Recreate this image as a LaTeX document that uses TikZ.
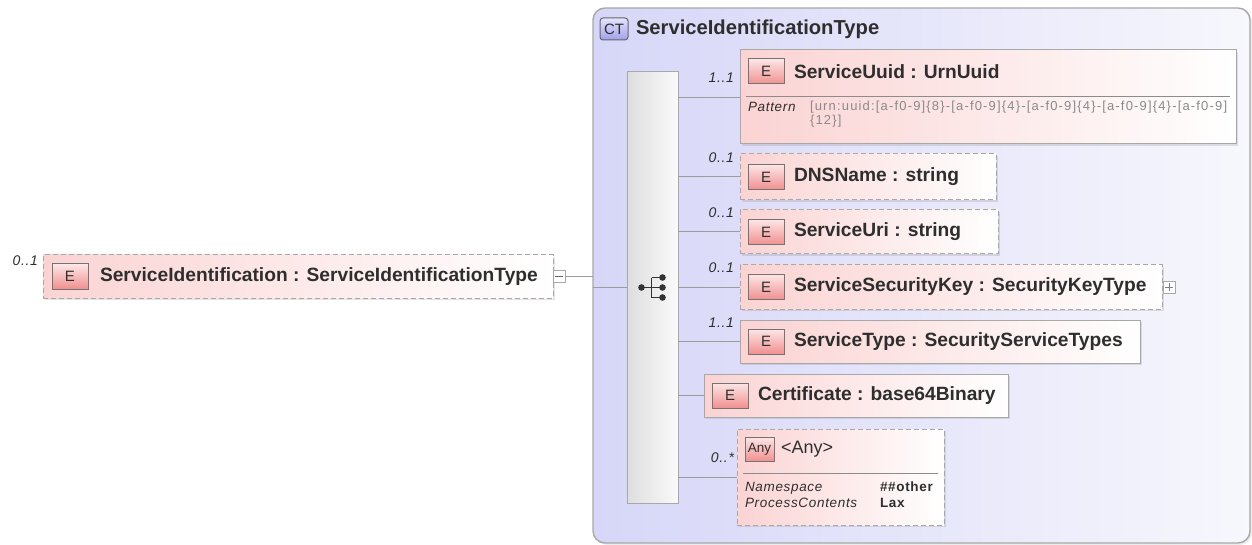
\documentclass[tikz,border=0pt]{standalone}
\usepackage{fontspec}
\setmainfont{Liberation Sans}
\newfontfamily\smallfont[LetterSpace=5]{Liberation Sans}
\newfontfamily\patternfont[LetterSpace=9]{Liberation Sans}
\usetikzlibrary{positioning,shadows,calc}

\definecolor{elempink}{HTML}{FBD3D3}
\definecolor{ctleft}{HTML}{D6D6F8}
\definecolor{ctright}{HTML}{F7F7FD}
\definecolor{boxgray}{HTML}{A8A8A8}
\definecolor{linegray}{HTML}{9C9C9C}
\definecolor{textdark}{HTML}{2E2E2E}
\definecolor{patterngray}{HTML}{8A8A8A}
\definecolor{badgetop}{HTML}{FDE6E6}
\definecolor{badgebot}{HTML}{F09090}
\definecolor{cttop}{HTML}{E4E4FF}
\definecolor{ctbot}{HTML}{A0A0EA}

\tikzset{
  elem/.style={draw=boxgray, line width=1pt, left color=elempink, right color=white,
    anchor=north west, drop shadow={opacity=.22, shadow xshift=2pt, shadow yshift=-2pt}},
  opt/.style={dash pattern=on 5pt off 3pt},
  ebadge/.style={draw=black!55, line width=1pt, top color=badgetop, bottom color=badgebot,
    minimum width=36pt, minimum height=25pt, text=textdark, font=\fontsize{15}{15}\selectfont},
  caption/.style={anchor=west, text=textdark, font=\fontsize{19.2}{22}\selectfont\bfseries},
  mult/.style={text=textdark, font=\smallfont\itshape\fontsize{14}{16}\selectfont},
  facet/.style={anchor=north west, text=textdark, font=\smallfont\itshape\fontsize{13.5}{16}\selectfont},
  facetval/.style={anchor=north west, text=textdark, font=\smallfont\bfseries\fontsize{13.5}{16}\selectfont},
  conn/.style={draw=linegray, line width=1pt},
  sepline/.style={draw=black!45, line width=.8pt},
  toggle/.style={draw=boxgray, fill=white, line width=.8pt, minimum size=12pt}
}

\begin{document}
\begin{tikzpicture}[x=1pt, y=-1pt, every node/.style={inner sep=0pt, outer sep=0pt}]
\useasboundingbox (0,0) rectangle (1252,545);

% complex type frame
\node[draw=boxgray, line width=1.4pt, rounded corners=12pt, left color=ctleft, right color=ctright,
  anchor=north west, minimum width=657pt, minimum height=535pt,
  drop shadow={opacity=.15, shadow xshift=2pt, shadow yshift=-2pt}] (ct) at (593,8) {};
\node[draw=black!60, line width=1pt, rounded corners=3pt, top color=cttop, bottom color=ctbot,
  anchor=north west, minimum width=28pt, minimum height=22pt, text=textdark,
  font=\fontsize{15}{15}\selectfont] (ctbadge) at (600,18) {CT};
\node[caption, right=8pt of ctbadge, font=\fontsize{20.2}{22}\selectfont\bfseries] (cttitle) {ServiceIdentificationType};

% the element itself
\node[elem, opt, minimum width=510pt, minimum height=43pt] (sid) at (43,255) {};
\node[ebadge, anchor=west] (sidE) at ([xshift=9pt]sid.west) {E};
\node[caption, right=12pt of sidE] {ServiceIdentification : ServiceIdentificationType};
\node[mult, above left=11pt and 5pt of sid.west] {0..1};
\node[toggle, right=0pt of sid] (sidminus) {};
\draw[black!60] ([xshift=-4pt]sidminus.center) -- ([xshift=4pt]sidminus.center);
\draw[conn] (sidminus.east) -- (sidminus.east -| ct.west);

% sequence compositor
\node[draw=boxgray, line width=1pt, left color=black!13, right color=black!2,
  anchor=north west, minimum width=51pt, minimum height=431pt] (seq) at (627,72) {};
\draw[conn] (seq.west -| ct.west) -- (seq.west);
\begin{scope}[shift={(seq.center)}, black!80]
  \draw[line width=1.4pt] (-11,0) -- (-1,0) (-1,-10) -- (-1,10)
    (-1,-10) -- (10,-10) (-1,0) -- (10,0) (-1,10) -- (10,10);
  \foreach \dy in {-10,0,10}
    \fill (10,\dy) circle (3.3pt);
  \fill (-11,0) circle (3.3pt);
\end{scope}

% children
\node[elem, minimum width=496pt, minimum height=94pt] (uuid) at (740,50) {};
\node[ebadge, anchor=north west] (uuidE) at (748,59) {E};
\node[caption, right=10pt of uuidE] {ServiceUuid : UrnUuid};
\draw[sepline] (746,96) -- (1230,96);
\node[facet] at (748,102) {Pattern};
\node[anchor=north west, align=left, text=patterngray,
  font=\patternfont\fontsize{13}{14}\selectfont] at (810,101)
  {[urn:uuid:[a-f0-9]\{8\}-[a-f0-9]\{4\}-[a-f0-9]\{4\}-[a-f0-9]\{4\}-[a-f0-9]\\\{12\}]};

\node[elem, opt, minimum width=256pt, minimum height=46pt] (dns) at (740,154) {};
\node[ebadge, anchor=west] (dnsE) at ([xshift=8pt]dns.west) {E};
\node[caption, right=10pt of dnsE] {DNSName : string};

\node[elem, opt, minimum width=258pt, minimum height=44pt] (uri) at (740,210) {};
\node[ebadge, anchor=west] (uriE) at ([xshift=8pt]uri.west) {E};
\node[caption, right=10pt of uriE] {ServiceUri : string};

\node[elem, opt, minimum width=422pt, minimum height=44pt] (key) at (740,265) {};
\node[ebadge, anchor=west] (keyE) at ([xshift=8pt]key.west) {E};
\node[caption, right=10pt of keyE] {ServiceSecurityKey : SecurityKeyType};
\node[toggle, anchor=west] (keyplus) at ([xshift=1pt]key.east) {};
\draw[black!50] ([xshift=-4pt]keyplus.center) -- ([xshift=4pt]keyplus.center)
  ([yshift=-4pt]keyplus.center) -- ([yshift=4pt]keyplus.center);

\node[elem, minimum width=400pt, minimum height=43pt] (stype) at (740,320) {};
\node[ebadge, anchor=west] (stypeE) at ([xshift=8pt]stype.west) {E};
\node[caption, right=10pt of stypeE] {ServiceType : SecurityServiceTypes};

\node[elem, minimum width=304pt, minimum height=43pt] (cert) at (704,374) {};
\node[ebadge, anchor=west] (certE) at ([xshift=8pt]cert.west) {E};
\node[caption, right=10pt of certE] {Certificate : base64Binary};

\node[elem, opt, minimum width=207pt, minimum height=96pt] (any) at (737,429) {};
\node[ebadge, anchor=north west, minimum width=29pt, minimum height=24pt,
  font=\fontsize{13.5}{14}\selectfont] (anyA) at (745,437) {Any};
\node[caption, right=7pt of anyA, font=\fontsize{18}{22}\selectfont] {<Any>};
\draw[sepline] (743,473) -- (938,473);
\node[facet] at (745,482) {Namespace};
\node[facetval] at (880,482) {\#\#other};
\node[facet] at (745,498) {ProcessContents};
\node[facetval] at (880,498) {Lax};

% connectors and occurrence labels
\draw[conn] (seq.east |- 0,98) -- (uuid.west |- 0,98);
\foreach \child in {dns, uri, key, stype, cert, any}
  \draw[conn] (seq.east |- \child.west) -- (\child.west);
\node[mult, above left=14pt and 6pt of uuid.west] {1..1};
\node[mult, above left=14pt and 6pt of dns.west] {0..1};
\node[mult, above left=14pt and 6pt of uri.west] {0..1};
\node[mult, above left=14pt and 6pt of key.west] {0..1};
\node[mult, above left=14pt and 6pt of stype.west] {1..1};
\node[mult, above left=14pt and 3pt of any.west] {0..*};
\end{tikzpicture}
\end{document}
